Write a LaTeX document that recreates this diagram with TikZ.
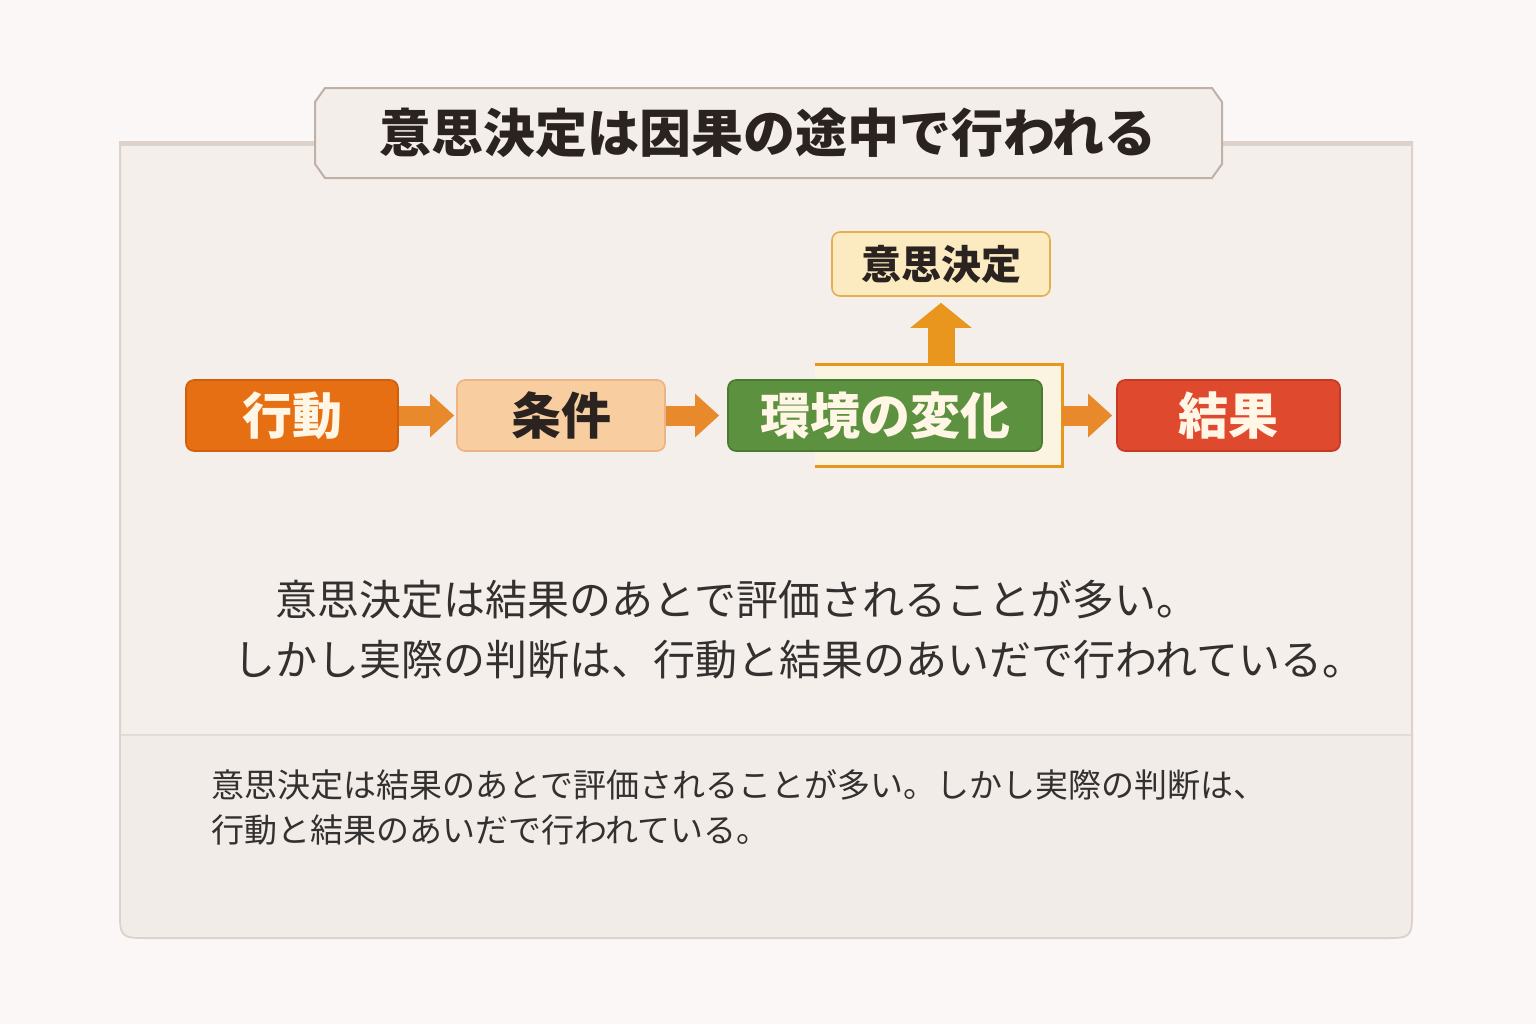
\documentclass[tikz,border=0pt]{standalone}
\usepackage{fontspec}
\setmainfont{Noto Sans CJK JP}
\usepackage{xcolor}
\usetikzlibrary{arrows.meta,positioning,calc}

\definecolor{pagebg}{HTML}{FBF7F6}
\definecolor{panelbg}{HTML}{F5EFEB}
\definecolor{panelline}{HTML}{DDD2CB}
\definecolor{lowerbg}{HTML}{F2ECE8}
\definecolor{bannerbg}{HTML}{F4EEEA}
\definecolor{bannerline}{HTML}{BFB0A8}
\definecolor{inkdark}{HTML}{2A2320}
\definecolor{inkbody}{HTML}{333030}
\definecolor{inklight}{HTML}{FFF6E6}
\definecolor{actfill}{HTML}{E56F12}
\definecolor{actline}{HTML}{CF5F0C}
\definecolor{condfill}{HTML}{F8CDA0}
\definecolor{condline}{HTML}{EBB386}
\definecolor{envfill}{HTML}{5C9140}
\definecolor{envline}{HTML}{4A7A31}
\definecolor{resfill}{HTML}{DF4A2F}
\definecolor{resline}{HTML}{C43A22}
\definecolor{decfill}{HTML}{FCEAC0}
\definecolor{decline}{HTML}{E6AE4E}
\definecolor{arrowor}{HTML}{E8892C}
\definecolor{framefill}{HTML}{FBF4E0}
\definecolor{frameline}{HTML}{E8961E}

\begin{document}
\begin{tikzpicture}[x=0.5pt,y=-0.5pt,
    flowbox/.style={rounded corners=4pt, minimum height=35.5pt, inner sep=0pt,
      line width=0.8pt, font=\bfseries\fontsize{25}{30}\selectfont},
    flowarrow/.style={draw=arrowor, line width=10pt,
      -{Triangle[length=12pt,width=21pt]}},
    bodytext/.style={inner sep=0pt, anchor=west, text=inkbody}]
    % Page and panel
    \useasboundingbox (0,0) rectangle (1536,1024);
    \fill[pagebg] (0,0) rectangle (1536,1024);
    \draw[panelline, fill=panelbg, line width=1pt] (120,142) -- (120,908)
      .. controls (120,938) .. (150,938) -- (1382,938)
      .. controls (1412,938) .. (1412,908) -- (1412,142) -- cycle;
    \fill[lowerbg] (121,735) -- (121,908) .. controls (121,937) .. (150,937)
      -- (1382,937) .. controls (1411,937) .. (1411,908) -- (1411,735) -- cycle;
    \draw[panelline!80, line width=1pt] (121,735) -- (1411,735);
    \draw[panelline, line width=2.5pt] (121,143) -- (1411,143);

    % Title banner
    \draw[bannerline, fill=bannerbg, line width=1pt] (325,88) -- (1212,88)
      -- (1222,102) -- (1222,164) -- (1212,178) -- (325,178) -- (315,164)
      -- (315,102) -- cycle;
    \node[text=inkdark, font=\bfseries\fontsize{26}{30}\selectfont] (title)
      at (768,133) {意思決定は因果の途中で行われる};

    % Flow row
    \node[minimum width=123.5pt, minimum height=50.5pt, inner sep=0pt] (envframe)
      at (938.5,415.5) {};
    \draw[frameline, fill=framefill, line width=1.5pt] (envframe.north west)
      -- (envframe.north east) -- (envframe.south east) -- (envframe.south west);

    \node[flowbox, minimum width=106pt, fill=actfill, draw=actline, text=inklight]
      (act) at (292,415.5) {行動};
    \node[flowbox, minimum width=104pt, fill=condfill, draw=condline, text=inkdark]
      (cond) at (561,415.5) {条件};
    \node[flowbox, minimum width=157pt, fill=envfill, draw=envline, text=inklight]
      (env) at (885,415.5) {環境の変化};
    \node[flowbox, minimum width=111.5pt, fill=resfill, draw=resline, text=inklight]
      (res) at (1228.5,415.5) {結果};
    \node[flowbox, minimum width=109pt, minimum height=32pt, fill=decfill,
      draw=decline, text=inkdark, font=\bfseries\fontsize{20}{24}\selectfont]
      (dec) at (941,264) {意思決定};

    % Arrows
    \draw[flowarrow, shorten >=1pt] (act.east) -- (cond.west);
    \draw[flowarrow, shorten >=4pt] (cond.east) -- (env.west);
    \draw[flowarrow, shorten >=2pt] (envframe.east) -- (res.west);
    \draw[draw=frameline, line width=13.5pt,
      -{Triangle[length=12.5pt,width=30pt]}, shorten >=3pt]
      (dec.south |- envframe.north) -- (dec.south);

    % Explanation
    \node[bodytext, font=\fontsize{21}{25}\selectfont] (line1) at (275,600)
      {意思決定は結果のあとで評価されることが多い。};
    \node[bodytext, font=\fontsize{21}{25}\selectfont] (line2) at (233,660)
      {しかし実際の判断は、行動と結果のあいだで行われている。};
    \node[bodytext, font=\fontsize{16.5}{20}\selectfont] (note1) at (211,785)
      {意思決定は結果のあとで評価されることが多い。しかし実際の判断は、};
    \node[bodytext, font=\fontsize{16.5}{20}\selectfont] (note2) at (211,830)
      {行動と結果のあいだで行われている。};
\end{tikzpicture}
\end{document}
